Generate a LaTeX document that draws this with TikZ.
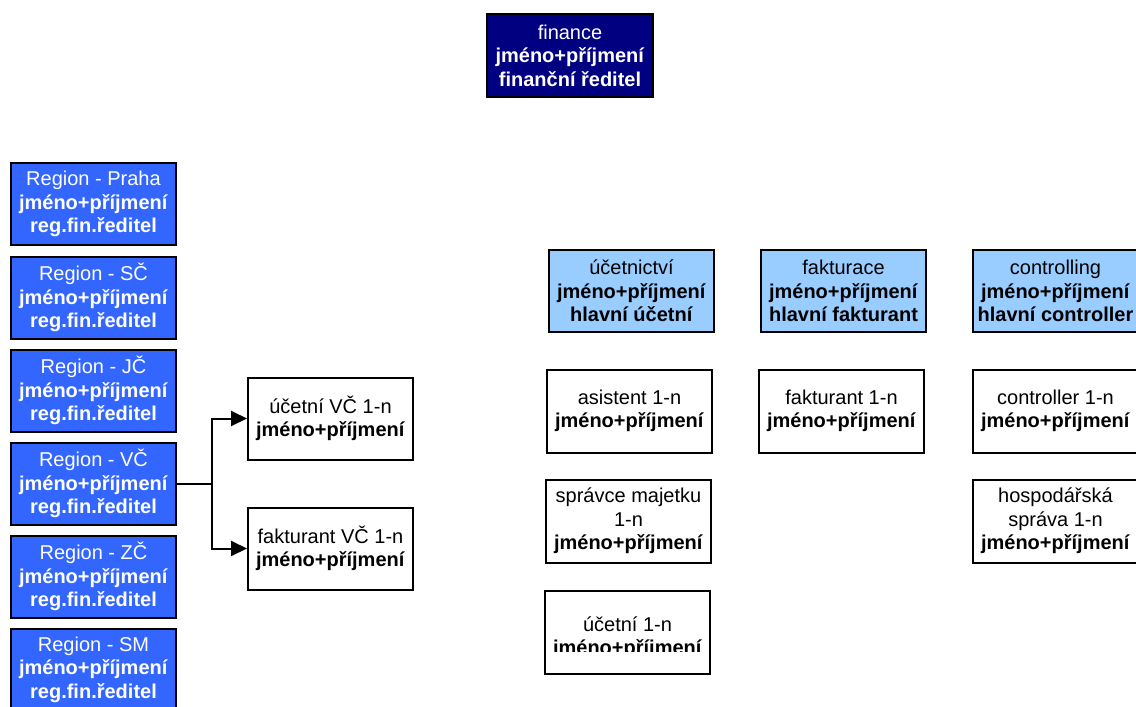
\documentclass[tikz,border=0pt]{standalone}
\usepackage{fontspec}
\setmainfont{Liberation Sans}
\usetikzlibrary{arrows.meta}
\definecolor{navy}{HTML}{000080}
\definecolor{regblue}{HTML}{3366FF}
\definecolor{deptblue}{HTML}{99CCFF}
\tikzset{
  boxfont/.style={font=\fontsize{20}{23.5}\selectfont},
  box/.style={draw=black, line width=2pt, minimum width=165pt, minimum height=82pt,
    inner sep=0pt, align=center, boxfont},
  topbox/.style={box, fill=navy, text=white, minimum width=166pt, minimum height=83pt},
  regbox/.style={box, fill=regblue, text=white},
  deptbox/.style={box, fill=deptblue},
  staffbox/.style={box, fill=white},
  conn/.style={line width=2pt},
  arr/.style={conn, -{Triangle[length=16pt, width=15pt]}},
}
\begin{document}
\begin{tikzpicture}[x=1pt, y=-1pt]
\useasboundingbox (0,0) rectangle (1136,707);

% top of the organisation
\node[topbox] (fin) at (570,55.5) {finance\\\textbf{jméno+příjmení}\\\textbf{finanční ředitel}};

% regional directors
\node[regbox] (praha) at (93.5,204)   {Region - Praha\\\textbf{jméno+příjmení}\\\textbf{reg.fin.ředitel}};
\node[regbox] (sc)    at (93.5,297.5) {Region - SČ\\\textbf{jméno+příjmení}\\\textbf{reg.fin.ředitel}};
\node[regbox] (jc)    at (93.5,390.5) {Region - JČ\\\textbf{jméno+příjmení}\\\textbf{reg.fin.ředitel}};
\node[regbox] (vc)    at (93.5,483.5) {Region - VČ\\\textbf{jméno+příjmení}\\\textbf{reg.fin.ředitel}};
\node[regbox] (zc)    at (93.5,576.5) {Region - ZČ\\\textbf{jméno+příjmení}\\\textbf{reg.fin.ředitel}};
\node[regbox] (sm)    at (93.5,669.5) {Region - SM\\\textbf{jméno+příjmení}\\\textbf{reg.fin.ředitel}};

% staff of region VČ
\node[staffbox] (ucvc)  at (330.5,418.5) {účetní VČ 1-n\\\textbf{jméno+příjmení}};
\node[staffbox] (fakvc) at (330.5,548.5) {fakturant VČ 1-n\\\textbf{jméno+příjmení}};

\coordinate (split) at (212,483.5);
\draw[conn] (vc.east) -- (split);
\draw[arr] (split) |- (ucvc.west);
\draw[arr] (split) |- (fakvc.west);

% departments
\node[deptbox] (uct)  at (631.5,291) {účetnictví\\\textbf{jméno+příjmení}\\\textbf{hlavní účetní}};
\node[deptbox] (fakt) at (843.5,291) {fakturace\\\textbf{jméno+příjmení}\\\textbf{hlavní fakturant}};
\node[deptbox] (ctrl) at (1055.5,291) {controlling\\\textbf{jméno+příjmení}\\\textbf{hlavní controller}};

% accounting staff
\node[staffbox, minimum height=83pt] (asist) at (629.5,411) {asistent 1-n\\\textbf{jméno+příjmení}};
\node[staffbox, minimum height=83pt] (sprav) at (628.5,521) {správce majetku\\1-n\\\textbf{jméno+příjmení}};
\node[staffbox, minimum height=83pt] (ucet)  at (627.5,632.5) {};
\begin{scope}
  % the lower line of this box is cut off just under its baseline
  \clip (540,600) rectangle (715,651.5);
  \node[align=center, inner sep=0pt, boxfont, yshift=-5pt] (ucettext) at (ucet.center) {účetní 1-n\\\textbf{jméno+příjmení}};
\end{scope}

% invoicing staff
\node[staffbox, minimum height=83pt] (fakst) at (841.5,411) {fakturant 1-n\\\textbf{jméno+příjmení}};

% controlling staff
\node[staffbox, minimum height=83pt] (ctrlst) at (1055.5,411) {controller 1-n\\\textbf{jméno+příjmení}};
\node[staffbox, minimum height=83pt] (hosp)   at (1055.5,521) {hospodářská\\správa 1-n\\\textbf{jméno+příjmení}};
\end{tikzpicture}
\end{document}
